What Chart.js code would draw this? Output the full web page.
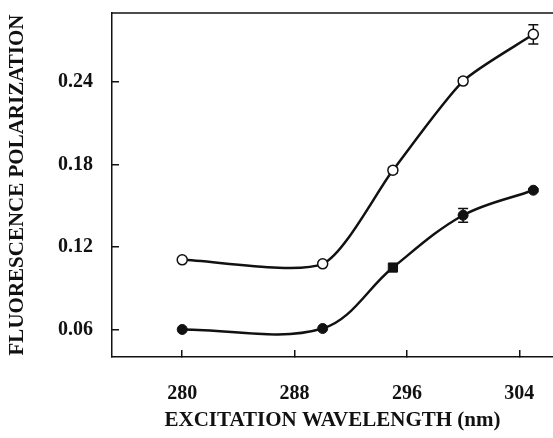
<!DOCTYPE html>
<html>
<head>
<meta charset="utf-8">
<script src="https://cdn.jsdelivr.net/npm/chart.js@4.4.0/dist/chart.umd.min.js"></script>
<style>
  html, body { margin: 0; padding: 0; background: #fff; }
  #wrap { width: 553px; height: 438px; }
</style>
</head>
<body>
<div id="wrap"><canvas id="fpChart" width="553" height="438"></canvas></div>
<script>
// data
var wavelengths = [280, 290, 295, 300, 305];
var openValues = [0.1106, 0.1077, 0.1757, 0.2405, 0.2745];
var openErrors = [0, 0, 0.002, 0.002, 0.007];
var filledValues = [0.060, 0.0607, 0.105, 0.143, 0.1612];
var filledErrors = [0, 0, 0, 0.005, 0.001];
var xTicks = [280, 288, 296, 304];
var yTicks = [0.06, 0.12, 0.18, 0.24];

var serif = "'Liberation Serif', 'Times New Roman', serif";
var ink = '#111';

function toPoints(xs, ys) {
    return xs.map(function (x, i) { return { x: x, y: ys[i] }; });
}

// error bars drawn behind the markers
var errorBars = {
    id: 'errorBars',
    beforeDatasetsDraw: function (chart) {
        var ctx = chart.ctx;
        var xs = chart.scales.x, ys = chart.scales.y;
        ctx.save();
        ctx.strokeStyle = ink;
        ctx.lineWidth = 1.5;
        chart.data.datasets.forEach(function (ds) {
            ds.data.forEach(function (p, i) {
                var e = ds.errors[i];
                if (!e) return;
                var px = xs.getPixelForValue(p.x);
                var top = ys.getPixelForValue(p.y + e);
                var bot = ys.getPixelForValue(p.y - e);
                ctx.beginPath();
                ctx.moveTo(px, top); ctx.lineTo(px, bot);
                ctx.moveTo(px - 5, top); ctx.lineTo(px + 5, top);
                ctx.moveTo(px - 5, bot); ctx.lineTo(px + 5, bot);
                ctx.stroke();
            });
        });
        ctx.restore();
    }
};

// top border of the frame
var frameTop = {
    id: 'frameTop',
    afterDraw: function (chart) {
        var a = chart.chartArea, ctx = chart.ctx;
        ctx.save();
        ctx.strokeStyle = ink;
        ctx.lineWidth = 1.5;
        ctx.beginPath();
        ctx.moveTo(a.left, a.top);
        ctx.lineTo(a.right, a.top);
        ctx.stroke();
        ctx.restore();
    }
};

new Chart(document.getElementById('fpChart').getContext('2d'), {
    type: 'line',
    data: {
        datasets: [{
            data: toPoints(wavelengths, openValues),
            errors: openErrors,
            borderColor: ink,
            borderWidth: 2.5,
            tension: 0.22,
            pointRadius: 5,
            pointBorderWidth: 1.5,
            pointBorderColor: ink,
            pointBackgroundColor: '#fff'
        }, {
            data: toPoints(wavelengths, filledValues),
            errors: filledErrors,
            borderColor: ink,
            borderWidth: 2.5,
            tension: 0.35,
            pointStyle: ['circle', 'circle', 'rect', 'circle', 'circle'],
            pointRadius: [5, 5, 6.5, 5, 5],
            pointBorderWidth: 1,
            pointBorderColor: ink,
            pointBackgroundColor: ink
        }]
    },
    options: {
        responsive: false,
        animation: false,
        layout: { autoPadding: false, padding: { top: 13, right: 0, left: 0, bottom: 0 } },
        plugins: {
            legend: { display: false },
            tooltip: { enabled: false }
        },
        scales: {
            x: {
                type: 'linear',
                min: 275,
                max: 306.4,
                afterBuildTicks: function (s) { s.ticks = xTicks.map(function (v) { return { value: v }; }); },
                afterFit: function (s) { s.height = 81; s.paddingLeft = 0; s.paddingRight = 0; },
                border: { color: ink, width: 1.5 },
                grid: { drawOnChartArea: false, tickLength: -7, color: ink, lineWidth: 1.5 },
                ticks: {
                    color: ink,
                    padding: 32,
                    maxRotation: 0,
                    font: { family: serif, size: 20, weight: 'bold' }
                },
                title: {
                    display: true,
                    text: 'EXCITATION WAVELENGTH (nm)',
                    color: ink,
                    padding: { top: 0, bottom: 5 },
                    font: { family: serif, size: 21, weight: 'bold' }
                }
            },
            y: {
                min: 0.04,
                max: 0.29,
                afterBuildTicks: function (s) { s.ticks = yTicks.map(function (v) { return { value: v }; }); },
                afterFit: function (s) { s.width = 112; s.paddingTop = 0; s.paddingBottom = 0; },
                border: { color: ink, width: 1.5 },
                grid: { drawOnChartArea: false, tickLength: -7, color: ink, lineWidth: 1.5 },
                ticks: {
                    color: ink,
                    padding: 26,
                    callback: function (v) { return v.toFixed(2); },
                    font: { family: serif, size: 20, weight: 'bold' }
                },
                title: {
                    display: true,
                    text: 'FLUORESCENCE POLARIZATION',
                    color: ink,
                    padding: { top: 5, bottom: 0 },
                    font: { family: serif, size: 21, weight: 'bold' }
                }
            }
        }
    },
    plugins: [errorBars, frameTop]
});
</script>
</body>
</html>
